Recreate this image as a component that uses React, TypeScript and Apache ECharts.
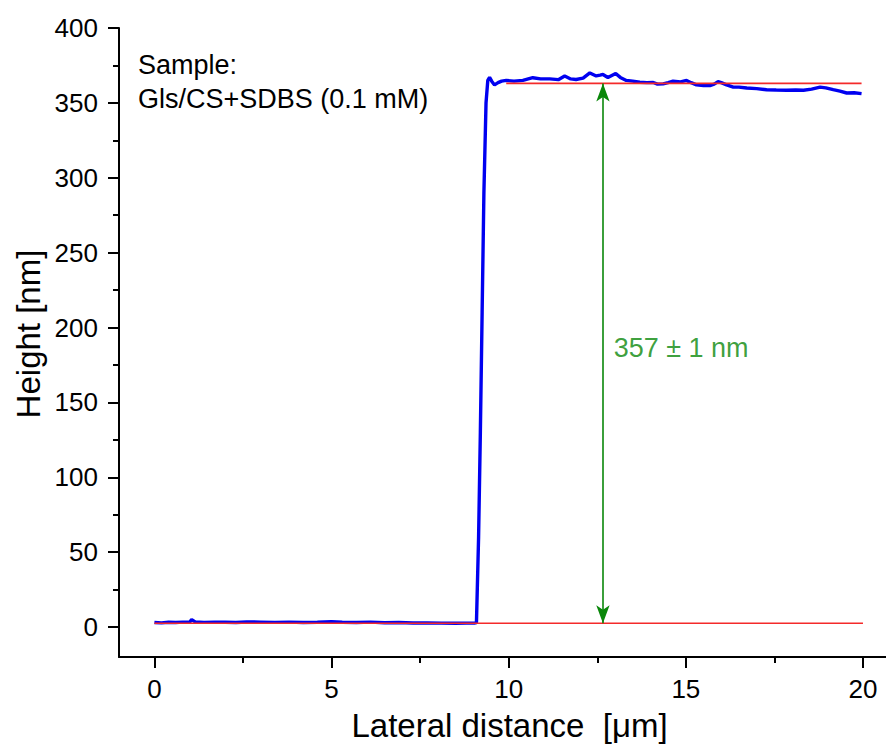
import React, { useEffect, useRef } from "react";
import * as echarts from "echarts";

// Profile (lateral distance in µm, height in nm)
const profileX = [
  0.0, 0.2, 0.4, 0.6, 0.8, 1.0, 1.05, 1.15, 1.4, 1.7, 2.0, 2.3, 2.6, 3.0, 3.4, 3.8, 4.2, 4.6, 5.0, 5.3,
  5.7, 6.1, 6.5, 6.9, 7.3, 7.7, 8.1, 8.5, 8.8, 9.05, 9.09, 9.15, 9.2, 9.25, 9.3, 9.36, 9.41, 9.46, 9.52,
  9.6, 9.7, 9.8, 9.93, 10.15, 10.4, 10.68, 10.9, 11.16, 11.4, 11.58, 11.75, 11.9, 12.1, 12.29, 12.47,
  12.58, 12.66, 12.8, 13.02, 13.15, 13.32, 13.5, 13.7, 13.9, 14.08, 14.2, 14.36, 14.5, 14.64, 14.85,
  15.02, 15.15, 15.3, 15.5, 15.68, 15.8, 15.91, 16.0, 16.15, 16.34, 16.5, 16.72, 17.0, 17.28, 17.55,
  17.85, 18.1, 18.32, 18.55, 18.79, 18.95, 19.16, 19.35, 19.54, 19.75, 19.96,
];
const profileY = [
  3.0, 2.8, 3.2, 3.0, 3.3, 3.4, 5.0, 3.4, 3.1, 3.3, 3.2, 3.0, 3.4, 3.3, 3.1, 3.3, 3.0, 3.2, 3.6, 3.2,
  3.0, 3.3, 2.9, 3.0, 2.7, 2.8, 2.6, 2.5, 2.6, 2.7, 3.0, 60, 130, 210, 290, 350, 365, 367, 364.5,
  362, 363.5, 364.5, 365, 364.5, 365, 366.8, 366, 366, 365.5, 367.9, 366, 365.6, 366.5, 370, 368,
  368.5, 369, 367, 369.6, 367, 365, 364.5, 363.8, 363.5, 363.6, 362.5, 362.7, 363.5, 364.5, 364,
  365, 363.5, 362, 361.5, 361.6, 362.5, 364.2, 363.5, 362, 360.5, 360.5, 359.9, 359.5, 358.8, 358.6,
  358.4, 358.6, 358.4, 359.2, 360.5, 360, 358.8, 357.8, 356.6, 356.8, 356.2,
];

// Fitted levels (red lines)
const lowerLevelX = [0, 20];
const lowerLevel = 2.5;
const upperLevelX = [9.93, 19.96];
const upperLevel = 363;

// Step height arrow
const arrowX = 12.66;
const stepLabel = "357 ± 1 nm";
const stepLabelPos = [12.85, 186];

// Axes
const xMajorTicks = [0, 5, 10, 15, 20];
const xMinorTicks = [2.5, 7.5, 12.5, 17.5];
const yMajorTicks = [0, 50, 100, 150, 200, 250, 300, 350, 400];
const yMinorTicks = [25, 75, 125, 175, 225, 275, 325, 375];

const FONT = "'Liberation Sans', Arial, sans-serif";

export default function App() {
  const ref = useRef<HTMLDivElement>(null);

  useEffect(() => {
    if (!ref.current) return;
    const chart = echarts.init(ref.current, null, { renderer: "svg" });

    const axisLineStyle = { color: "#000", width: 2 };
    const xBase = { type: "value", min: -1, max: 20.65, splitLine: { show: false } };
    const yBase = { type: "value", min: -20, max: 400, splitLine: { show: false } };

    chart.setOption({
      animation: false,
      backgroundColor: "#fff",
      textStyle: { fontFamily: FONT },
      grid: { left: 119, right: 0, top: 28, bottom: 90, containLabel: false, outerBoundsMode: "none" },
      xAxis: [
        {
          ...xBase,
          position: "bottom",
          axisLine: { show: true, onZero: false, lineStyle: axisLineStyle },
          axisTick: { show: true, customValues: xMajorTicks, length: 11, lineStyle: { width: 2, color: "#000" } },
          axisLabel: { customValues: xMajorTicks, fontSize: 26, color: "#000", fontFamily: FONT, margin: 19 },
          name: "Lateral distance  [μm]",
          nameLocation: "middle",
          nameGap: 52,
          nameTextStyle: {
            fontSize: 33,
            color: "#000",
            fontFamily: FONT,
            verticalAlign: "top",
            padding: [0, 0, 0, 14],
          },
        },
        {
          ...xBase,
          position: "bottom",
          axisLine: { show: false, onZero: false },
          axisTick: { show: true, customValues: xMinorTicks, length: 6, lineStyle: { width: 2, color: "#000" } },
          axisLabel: { show: false },
        },
      ],
      yAxis: [
        {
          ...yBase,
          position: "left",
          axisLine: { show: true, onZero: false, lineStyle: axisLineStyle },
          axisTick: { show: true, customValues: yMajorTicks, length: 11, lineStyle: { width: 2, color: "#000" } },
          axisLabel: { customValues: yMajorTicks, fontSize: 26, color: "#000", fontFamily: FONT, margin: 21 },
        },
        {
          ...yBase,
          position: "left",
          axisLine: { show: false, onZero: false },
          axisTick: { show: true, customValues: yMinorTicks, length: 6, lineStyle: { width: 2, color: "#000" } },
          axisLabel: { show: false },
        },
      ],
      series: [
        {
          name: "profile",
          type: "line",
          data: profileX.map((x, i) => [x, profileY[i]]),
          showSymbol: false,
          symbol: "none",
          smooth: false,
          lineStyle: { color: "#0000f0", width: 3.4 },
          silent: true,
          z: 2,
        },
        {
          name: "lower level",
          type: "line",
          data: lowerLevelX.map((x) => [x, lowerLevel]),
          symbol: "none",
          lineStyle: { color: "#f42a2a", width: 1.6 },
          silent: true,
          z: 3,
          markLine: {
            silent: true,
            symbol: ["arrow", "arrow"],
            symbolSize: [10, 18],
            label: { show: false },
            lineStyle: { color: "#0a870a", width: 1.6, type: "solid" },
            data: [[{ coord: [arrowX, upperLevel] }, { coord: [arrowX, lowerLevel] }]],
          },
        },
        {
          name: "upper level",
          type: "line",
          data: upperLevelX.map((x) => [x, upperLevel]),
          symbol: "none",
          lineStyle: { color: "#f42a2a", width: 1.6 },
          silent: true,
          z: 3,
        },
        {
          name: "step label",
          type: "scatter",
          data: [stepLabelPos],
          symbolSize: 0,
          silent: true,
          label: {
            show: true,
            position: "right",
            distance: 4,
            formatter: stepLabel,
            fontSize: 27,
            color: "#0a870a",
            fontFamily: FONT,
          },
        },
      ],
      graphic: [
        {
          type: "text",
          left: 138,
          top: 51,
          style: { text: "Sample:", fontSize: 27, fill: "#000", fontFamily: FONT },
        },
        {
          type: "text",
          left: 138,
          top: 85,
          style: { text: "Gls/CS+SDBS (0.1 mM)", fontSize: 27, fill: "#000", fontFamily: FONT },
        },
        {
          type: "text",
          x: 12,
          y: 334,
          rotation: Math.PI / 2,
          style: {
            text: "Height [nm]",
            fontSize: 33,
            fill: "#000",
            fontFamily: FONT,
            align: "center",
            verticalAlign: "top",
          },
        },
      ],
    });

    return () => chart.dispose();
  }, []);

  return (
    <div
      ref={ref}
      style={{ position: "absolute", left: 0, top: 0, width: 886, height: 747, background: "#fff" }}
    />
  );
}
